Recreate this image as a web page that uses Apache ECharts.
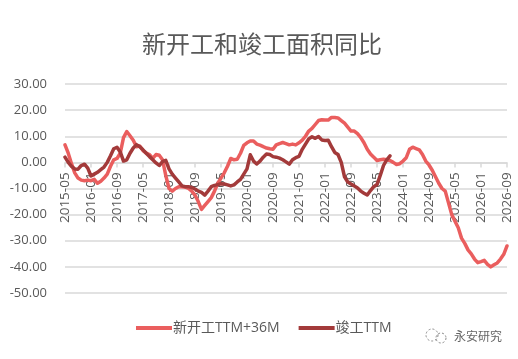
<!DOCTYPE html>
<html>
<head>
<meta charset="utf-8">
<style>
  html, body { margin: 0; padding: 0; background: #fff; }
  #chart { width: 518px; height: 359px; }
</style>
<script src="https://cdn.jsdelivr.net/npm/echarts@6/dist/echarts.min.js"></script>
</head>
<body>
<div id="chart"></div>
<script>
const months = [
  '2015-05','2015-06','2015-07','2015-08','2015-09','2015-10','2015-11','2015-12',
  '2016-01','2016-02','2016-03','2016-04','2016-05','2016-06','2016-07','2016-08','2016-09','2016-10','2016-11','2016-12',
  '2017-01','2017-02','2017-03','2017-04','2017-05','2017-06','2017-07','2017-08','2017-09','2017-10','2017-11','2017-12',
  '2018-01','2018-02','2018-03','2018-04','2018-05','2018-06','2018-07','2018-08','2018-09','2018-10','2018-11','2018-12',
  '2019-01','2019-02','2019-03','2019-04','2019-05','2019-06','2019-07','2019-08','2019-09','2019-10','2019-11','2019-12',
  '2020-01','2020-02','2020-03','2020-04','2020-05','2020-06','2020-07','2020-08','2020-09','2020-10','2020-11','2020-12',
  '2021-01','2021-02','2021-03','2021-04','2021-05','2021-06','2021-07','2021-08','2021-09','2021-10','2021-11','2021-12',
  '2022-01','2022-02','2022-03','2022-04','2022-05','2022-06','2022-07','2022-08','2022-09','2022-10','2022-11','2022-12',
  '2023-01','2023-02','2023-03','2023-04','2023-05','2023-06','2023-07','2023-08','2023-09','2023-10','2023-11','2023-12',
  '2024-01','2024-02','2024-03','2024-04','2024-05','2024-06','2024-07','2024-08','2024-09','2024-10','2024-11','2024-12',
  '2025-01','2025-02','2025-03','2025-04','2025-05','2025-06','2025-07','2025-08','2025-09','2025-10','2025-11','2025-12',
  '2026-01','2026-02','2026-03','2026-04','2026-05','2026-06','2026-07','2026-08','2026-09'
]

const newStarts = [
  6.7, 3.5, -0.5, -4, -6, -6.8, -7, -6.8,
  -7, -6.5, -8, -7.2, -6, -4.5, -1.5, 1, 1.5, 3.5, 9.5, 11.8,
  10.2, 8.5, 6, 6.3, 4.5, 3.5, 3, 1.5, 3, 2.7, 1, -5,
  -10, -11, -10, -9.3, -9.3, -9.5, -10, -11, -12.5, -15, -18, -16.5,
  -15, -13.5, -11, -8, -6, -4, -1.5, 1.5, 1, 1.2, 3.5, 6.5,
  7.5, 8.2, 8.2, 7, 6.6, 6, 5.5, 5.2, 5, 6.7, 7.2, 7.6,
  7.2, 6.7, 7, 6.7, 7.5, 8.5, 10, 12, 13, 14.5, 16, 16.3,
  16.2, 16.2, 17.2, 17.2, 17, 16, 15, 13.5, 12, 12, 11, 9.5,
  7.5, 5, 3.2, 2, 0.7, 1, 1.2, 1, 0.7, 0, -0.8, -0.5,
  0.5, 1.8, 5, 5.8, 5.3, 4.8, 3, 0.5, -1, -3, -5.5, -8,
  -10, -11, -15.5, -20, -22.5, -25, -29, -31, -33.5, -35, -37, -38.4,
  -38, -37.5, -39, -40, -39.2, -38.5, -37, -35.2, -32
]

const completions = [
  2, 0, -1.5, -2.5, -2.6, -1.2, -0.7, -2.2,
  -5.2, -4.5, -3.8, -2.8, -1.8, 0, 2.5, 5.2, 5.8, 4, 0.5, 1,
  3.5, 5.5, 6.8, 6, 4.8, 3.5, 2.2, 1, -0.2, -1.2, 0.3, 0.8,
  -2.5, -4.5, -6, -7.5, -9, -9.3, -9.3, -9.6, -10.2, -11, -11.5, -12.5,
  -11, -9.3, -8.8, -8.5, -8.2, -8.3, -8.6, -9, -8.6, -7.5, -6.5, -4.5,
  -2.5, 2.9, 0.5, -0.6, 0.5, 2, 3.2, 3, 2.2, 2, 1.6, 1,
  0.2, -0.7, 1, 1.8, 2.3, 5, 7, 9, 9.8, 9.2, 9.9, 8.6,
  8.4, 8.5, 6, 3.8, 3, 0, -5.5, -7.5, -8.3, -9, -9.8, -11,
  -11.8, -12.5, -10.8, -9.3, -8.5, -5, -1.2, 1, 2.5
]

const textColor = '#595959'
const labelFont = '"Open Sans", "Noto Sans CJK SC", sans-serif'

const chart = echarts.init(document.getElementById('chart'), null, { renderer: 'canvas' })
chart.setOption({
  animation: false,
  backgroundColor: '#fff',
  title: {
    text: '新开工和竣工面积同比',
    left: 257,
    top: 27,
    textAlign: 'center',
    textStyle: {
      color: textColor,
      fontSize: 24,
      fontWeight: 'normal',
      fontFamily: '"Noto Sans CJK SC", sans-serif'
    }
  },
  legend: {
    left: 131,
    top: 316,
    itemWidth: 36,
    itemHeight: 14,
    itemGap: 19,
    icon: 'path://M0 0H36V4H0Z',
    itemStyle: { borderWidth: 0 },
    textStyle: { color: textColor, fontSize: 14, padding: [0, 0, 0, -4], fontFamily: labelFont }
  },
  grid: { left: 65, right: 11, top: 84, bottom: 66 },
  xAxis: {
    type: 'category',
    boundaryGap: false,
    data: months,
    // axis sits at value 0: 50/80 of the grid height above the bottom edge
    offset: -130.6,
    axisLine: { onZero: false, lineStyle: { color: '#D9D9D9', width: 1.5 } },
    axisTick: { show: true, interval: 7, length: 5, lineStyle: { color: '#D9D9D9', width: 1.5 } },
    axisLabel: {
      interval: 7,
      rotate: 90,
      margin: 10,
      color: textColor,
      fontSize: 13.5,
      fontFamily: labelFont
    }
  },
  yAxis: {
    type: 'value',
    min: -50,
    max: 30,
    interval: 10,
    axisLine: { show: false },
    axisTick: { show: false },
    splitLine: { lineStyle: { color: '#D9D9D9', width: 1.5 } },
    axisLabel: {
      margin: 18,
      color: textColor,
      fontSize: 13,
      fontFamily: labelFont,
      formatter: v => v.toFixed(2)
    }
  },
  series: [
    {
      name: '新开工TTM+36M',
      type: 'line',
      data: newStarts,
      showSymbol: false,
      lineStyle: { color: '#EA5E5E', width: 3.5, cap: 'round', join: 'round' },
      itemStyle: { color: '#EA5E5E' }
    },
    {
      name: '竣工TTM',
      type: 'line',
      data: completions,
      showSymbol: false,
      lineStyle: { color: '#A33A3A', width: 3.5, cap: 'round', join: 'round' },
      itemStyle: { color: '#A33A3A' }
    }
  ],
  graphic: [
    // watermark in the corner
    { type: 'circle', shape: { cx: 432, cy: 335, r: 6 }, style: { fill: 'none', stroke: '#888', lineWidth: 1, lineDash: [2, 2] } },
    { type: 'circle', shape: { cx: 441, cy: 338, r: 5 }, style: { fill: 'none', stroke: '#888', lineWidth: 1, lineDash: [2, 2] } },
    {
      type: 'text',
      left: 454,
      top: 330,
      style: { text: '永安研究', fill: '#666', font: '12px "Noto Sans CJK SC", sans-serif' }
    }
  ]
})
</script>
</body>
</html>
